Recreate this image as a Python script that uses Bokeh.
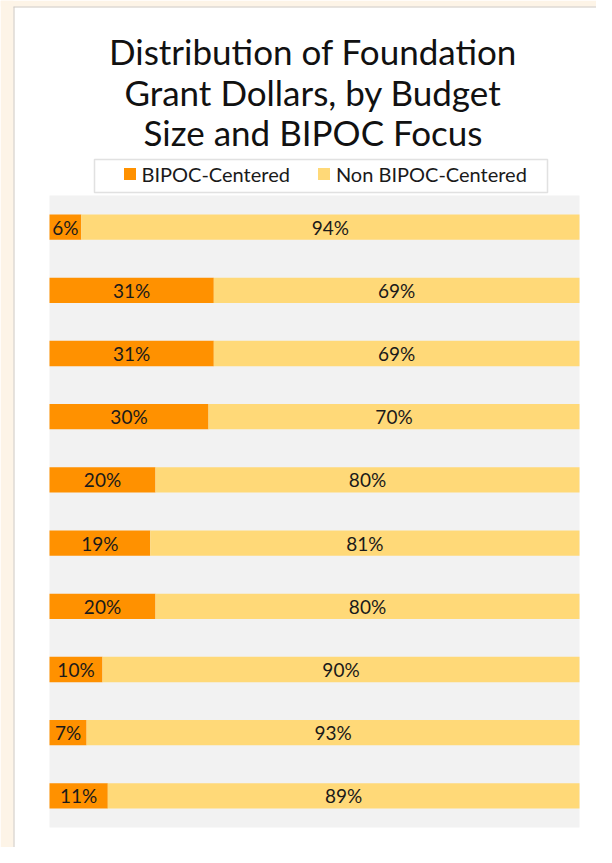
from bokeh.plotting import figure
from bokeh.models import ColumnDataSource, Range1d, Label, Legend, LegendItem, BoxAnnotation
from bokeh.core.properties import value
from bokeh.embed import file_html
from bokeh.resources import INLINE

# ---- data ----
title_lines = ["Distribution of Foundation", "Grant Dollars, by Budget", "Size and BIPOC Focus"]
series_names = ["BIPOC-Centered", "Non BIPOC-Centered"]
rows = list(range(10))
bipoc = [6, 31, 31, 30, 20, 19, 20, 10, 7, 11]
non_bipoc = [94, 69, 69, 70, 80, 81, 80, 90, 93, 89]

ORANGE = "#FF9100"
YELLOW = "#FFD978"
GRAY = "#F2F2F2"
CREAM = "#FDF4E7"
FONT = "Lato"

# ---- layout (pixels) ----
W, H = 596, 847
AREA_L, AREA_R, AREA_T, AREA_B = 49, 579, 195, 827
pxu = (AREA_R - AREA_L) / 100.0
pitch = (AREA_B - AREA_T) / len(rows)
row0 = AREA_T + pitch / 2
x_start = -AREA_L / pxu
x_end = (W - AREA_L) / pxu
y_start = (H - row0) / pitch
y_end = -row0 / pitch

def sy(py):
    return H - py

src = ColumnDataSource(dict(
    y=rows,
    b_left=[0] * len(rows),
    b_right=bipoc,
    n_left=bipoc,
    n_right=[b + n for b, n in zip(bipoc, non_bipoc)],
    b_mid=[b / 2 for b in bipoc],
    n_mid=[b + n / 2 for b, n in zip(bipoc, non_bipoc)],
    b_txt=[f"{b}%" for b in bipoc],
    n_txt=[f"{n}%" for n in non_bipoc],
))

p = figure(width=W, height=H, output_backend="svg", toolbar_location=None,
           x_range=Range1d(x_start, x_end), y_range=Range1d(y_start, y_end),
           x_axis_location=None, y_axis_location=None, title=None,
           min_border=0)
p.grid.visible = False
p.outline_line_color = None
p.background_fill_color = "white"
p.border_fill_color = "white"

# page cream edges and panel border
for l, r, b, t, c in [(0, 13, 0, H, CREAM), (13, 14, 0, sy(6), "#CDC8C0"),
                      (0, W, sy(6), H, CREAM), (13, W, sy(7), sy(6), "#CDC8C0")]:
    p.add_layout(BoxAnnotation(left=l, right=r, bottom=b, top=t,
                               left_units="screen", right_units="screen",
                               bottom_units="screen", top_units="screen",
                               fill_color=c, fill_alpha=1, line_color=None, level="underlay"))

# plot area background
p.quad(left=[0], right=[100], bottom=[len(rows) - 0.5], top=[-0.5],
       fill_color=GRAY, line_color=None)

r1 = p.hbar(y="y", left="b_left", right="b_right", height=0.4, source=src,
            fill_color=ORANGE, line_color=None)
r2 = p.hbar(y="y", left="n_left", right="n_right", height=0.4, source=src,
            fill_color=YELLOW, line_color=None)

for xcol, tcol in (("b_mid", "b_txt"), ("n_mid", "n_txt")):
    p.text(x=xcol, y="y", text=tcol, source=src, text_align="center", text_baseline="middle",
           text_font=value(FONT), text_font_size="19px", text_color="#1a1a1a")

# title
for txt, yb in zip(title_lines, [50, 91, 131]):
    p.add_layout(Label(x=312.5, y=sy(yb), x_units="screen", y_units="screen", text=txt,
                       text_align="center", text_baseline="alphabetic",
                       text_font=FONT, text_font_size="35px", text_color="#111111"))

# legend box
p.add_layout(BoxAnnotation(left=94, right=547, bottom=sy(192), top=sy(159),
                           left_units="screen", right_units="screen",
                           bottom_units="screen", top_units="screen",
                           fill_color="white", fill_alpha=1, line_color="#9A9A9A", line_width=1.5))

legend = Legend(items=[LegendItem(label=series_names[0], renderers=[r1]),
                       LegendItem(label=series_names[1], renderers=[r2])],
                location=(121.5, sy(185.5)), orientation="horizontal",
                border_line_alpha=0, background_fill_alpha=0, padding=0, margin=0,
                glyph_width=15, glyph_height=15, label_standoff=5, spacing=26,
                label_text_font=FONT, label_text_font_size="20px", label_text_color="#1a1a1a")
p.add_layout(legend)

html = file_html(p, INLINE, title="chart")
open("out.html", "w").write(html)
